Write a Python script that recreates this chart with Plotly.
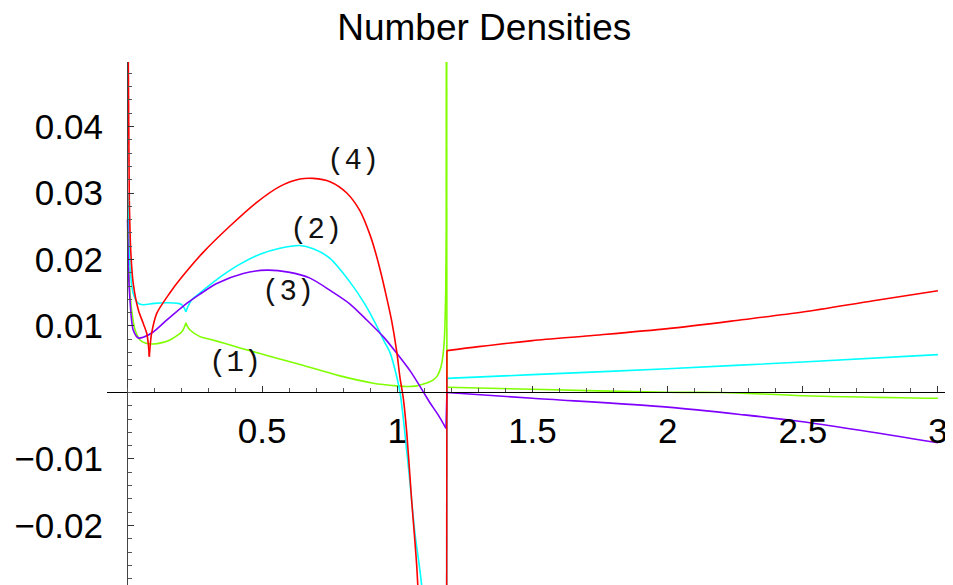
import plotly.graph_objects as go

# Curve (1) - green
x1 = [0.002, 0.0085, 0.017, 0.03, 0.048, 0.07, 0.097, 0.13, 0.159, 0.19, 0.202, 0.212, 0.218,
      0.224, 0.233, 0.27, 0.307, 0.36, 0.418, 0.541, 0.640, 0.788, 0.911, 0.998, 1.04,
      1.072, 1.1, 1.12, 1.133, 1.148, 1.158, 1.165, 1.17, 1.174, 1.176, 1.179, 1.181, 1.182,
      1.1835, 1.5, 2.0, 2.2, 2.5, 3.0]
y1 = [0.024, 0.0164, 0.0124, 0.0094, 0.0079, 0.0074, 0.0073, 0.0075, 0.0079, 0.0087, 0.0091, 0.0098, 0.0105,
      0.0099, 0.0094, 0.0084, 0.0080, 0.0074, 0.0067, 0.0053, 0.0042, 0.0025, 0.0014, 0.0010, 0.0009,
      0.0010, 0.0013, 0.0016, 0.0019, 0.0025, 0.0034, 0.0045, 0.0060, 0.0080, 0.0100, 0.0150, 0.025, 0.06,
      0.00078, 0.00048, 0.00003, 0.0, -0.00048, -0.00087]

# Curve (2) - cyan
x2 = [0.003, 0.011, 0.023, 0.042, 0.060, 0.10, 0.147, 0.19, 0.202, 0.212, 0.218, 0.224,
      0.239, 0.27, 0.307, 0.36, 0.418, 0.492, 0.566, 0.640, 0.689, 0.750, 0.825, 0.880,
      0.924, 0.950, 0.973, 0.991, 1.010, 1.041, 1.065, 1.09, 1.12, 1.18,
      1.1835, 1.5, 2.0, 2.5, 3.0]
y2 = [0.030, 0.0189, 0.0149, 0.0134, 0.0132, 0.0134, 0.0135, 0.0134, 0.0132, 0.0127, 0.0121, 0.0128,
      0.0139, 0.0150, 0.0162, 0.0178, 0.0193, 0.0208, 0.0217, 0.0221, 0.0216, 0.0202, 0.0166, 0.0133,
      0.0100, 0.0078, 0.0060, 0.0035, 0.0, -0.0112, -0.0211, -0.029, -0.05, -0.15,
      0.00213, 0.00268, 0.00358, 0.00459, 0.00569]

# Curve (3) - purple
x3 = [0.002, 0.005, 0.011, 0.023, 0.042, 0.060, 0.097, 0.15, 0.221, 0.27, 0.332, 0.43,
      0.517, 0.597, 0.677, 0.757, 0.825, 0.887, 0.948, 0.998, 1.050, 1.096, 1.12, 1.15, 1.18,
      1.1835, 1.5, 2.0, 2.268, 2.5, 3.0]
y3 = [0.026, 0.0189, 0.0139, 0.0094, 0.0082, 0.0083, 0.0091, 0.0110, 0.0134, 0.0148, 0.0164, 0.0179,
      0.0184, 0.0181, 0.0172, 0.0152, 0.0133, 0.0109, 0.0084, 0.0059, 0.0031, 0.0001, -0.0015, -0.0033, -0.0054,
      0.0, -0.00087, -0.0022, -0.0033, -0.0044, -0.00755]

# Curve (4) - red
x4 = [0.003, 0.0085, 0.0137, 0.023, 0.042, 0.060, 0.073, 0.079, 0.0826, 0.086, 0.091, 0.11,
      0.159, 0.20, 0.28, 0.38, 0.48, 0.566, 0.640, 0.689, 0.751, 0.813, 0.862,
      0.899, 0.917, 0.938, 0.961, 0.979, 0.998, 1.010, 1.022, 1.035, 1.053, 1.072, 1.09, 1.13, 1.18,
      1.1835, 1.3, 1.5, 1.713, 2.0, 2.268, 2.5, 2.761, 3.0]
y4 = [0.060, 0.0289, 0.0214, 0.0164, 0.0124, 0.0104, 0.0089, 0.0072, 0.0054, 0.0072, 0.0089, 0.0119,
      0.0150, 0.0172, 0.0210, 0.0250, 0.0286, 0.0310, 0.0321, 0.0322, 0.0317, 0.0300, 0.0273,
      0.0237, 0.0214, 0.0182, 0.0142, 0.0108, 0.0061, 0.0022, -0.0008, -0.0061, -0.0162, -0.0262, -0.040, -0.08, -0.15,
      0.0063, 0.0069, 0.0078, 0.00854, 0.0096, 0.0109, 0.0121, 0.0138, 0.0153]

# x values where a curve has a sharp corner (cusps and the jump at x ~ 1.18)
corners1 = [0.0085, 0.218, 1.182, 1.1835]
corners2 = [0.011, 0.218, 1.18, 1.1835]
corners3 = [0.005, 1.18, 1.1835]
corners4 = [0.0085, 0.0826, 1.18, 1.1835]

# curve labels
label_text = ["(1)", "(2)", "(3)", "(4)"]
label_x = [0.399, 0.699, 0.597, 0.837]
label_y = [0.0044, 0.0244, 0.0151, 0.0347]

x_ticks = [0.5, 1, 1.5, 2, 2.5, 3]
y_ticks = [-0.02, -0.01, 0.01, 0.02, 0.03, 0.04]

X_RANGE = [-0.074, 3.052]
Y_RANGE = [-0.02895, 0.0497]

COLORS = ["#80FF00", "#00FFFF", "#8000FF", "#FF0000"]


def add_curve(fig, xs, ys, corners, color):
    # smooth pieces between corner points, so cusps and jumps stay sharp
    cuts = sorted({0, len(xs) - 1} | {xs.index(c) for c in corners})
    for a, b in zip(cuts[:-1], cuts[1:]):
        fig.add_trace(go.Scatter(
            x=xs[a:b + 1], y=ys[a:b + 1], mode="lines",
            line=dict(color=color, width=1.6, shape="spline", smoothing=0.8),
            hoverinfo="skip",
        ))


fig = go.Figure()
for xs, ys, cs, c in zip([x1, x2, x3, x4], [y1, y2, y3, y4],
                         [corners1, corners2, corners3, corners4], COLORS):
    add_curve(fig, xs, ys, cs, c)

for t, lx, ly in zip(label_text, label_x, label_y):
    fig.add_annotation(x=lx, y=ly, text=t, showarrow=False,
                       font=dict(family="Liberation Mono", size=29, color="#111"))

tick_font = dict(family="Liberation Sans, Arial, sans-serif", size=35, color="black")

# page body adds an 8px margin, so the figure is 8px smaller than the window
fig.update_layout(
    width=945, height=577,
    paper_bgcolor="white", plot_bgcolor="white",
    showlegend=False,
    margin=dict(l=99, r=1, t=54, b=0),
    title=dict(text="Number Densities", x=0.504, xanchor="center",
               y=1 - 19 / 577, yanchor="middle",
               font=dict(family="Liberation Sans, Arial, sans-serif", size=37, color="black")),
    xaxis=dict(
        range=X_RANGE, showgrid=False, zeroline=False,
        showline=True, linecolor="black", linewidth=1.2,
        anchor="free",
        position=(0 - Y_RANGE[0]) / (Y_RANGE[1] - Y_RANGE[0]),
        tickmode="array", tickvals=x_ticks,
        ticks="inside", ticklen=6, tickcolor="#333", tickwidth=1,
        ticklabelstandoff=7,
        minor=dict(dtick=0.1, tick0=0, ticks="inside", ticklen=4,
                   tickcolor="#555", tickwidth=1, showgrid=False),
        tickfont=tick_font,
    ),
    yaxis=dict(
        range=Y_RANGE, showgrid=False, zeroline=False,
        showline=True, linecolor="#444", linewidth=1.2,
        anchor="free",
        position=(0 - X_RANGE[0]) / (X_RANGE[1] - X_RANGE[0]),
        tickmode="array", tickvals=y_ticks,
        ticks="inside", ticklen=6, tickcolor="#333", tickwidth=1,
        ticklabelstandoff=17,
        minor=dict(dtick=0.002, tick0=0, ticks="inside", ticklen=3.5,
                   tickcolor="#555", tickwidth=1, showgrid=False),
        tickfont=tick_font,
    ),
)

fig.write_html("out.html")
